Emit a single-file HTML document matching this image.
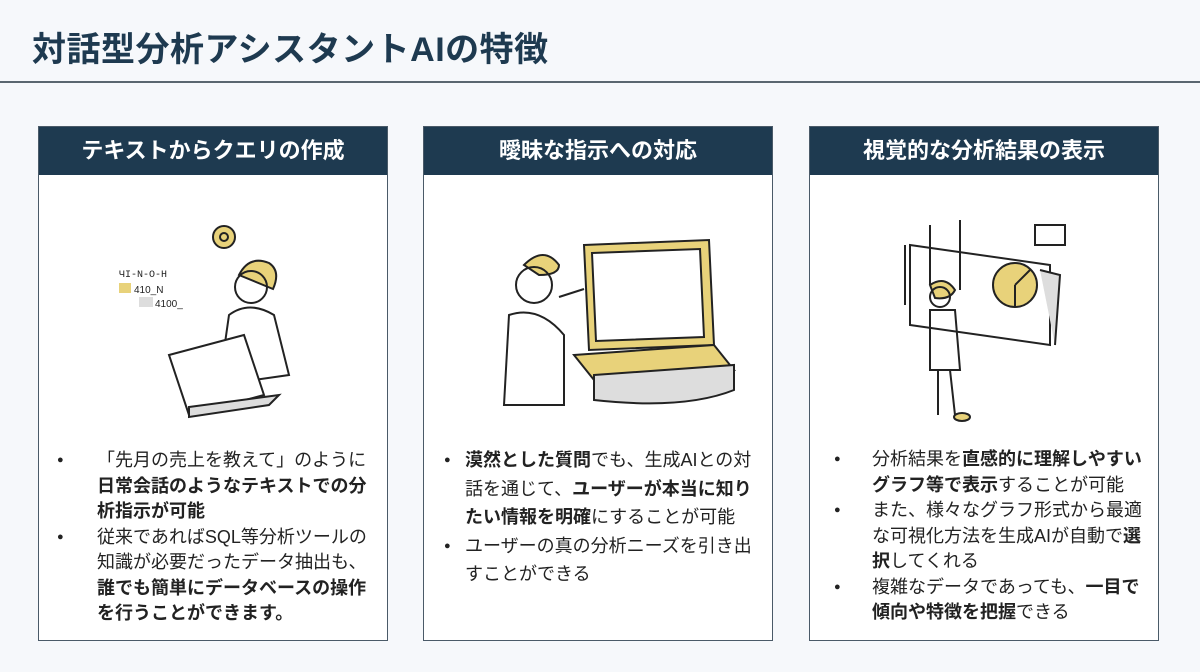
<!DOCTYPE html>
<html><head><meta charset="utf-8"><style>
body{margin:0;width:1200px;height:672px;background:#f6f8fb;font-family:"Liberation Sans","Noto Sans CJK JP",sans-serif;position:relative;overflow:hidden;color:#222}
h1{position:absolute;left:32px;top:22px;margin:0;font-size:34px;font-weight:bold;color:#1e3a50;letter-spacing:0.5px}
.rule{position:absolute;left:0;top:81px;width:1200px;height:2px;background:#5a6670}
.panel{position:absolute;top:126px;width:350px;height:515px;background:#fff;border:1.5px solid #4a5a68;box-sizing:border-box}
.hd{height:48px;background:#1e3a50;color:#fff;font-weight:bold;font-size:22px;text-align:center;line-height:48px}
ul{position:absolute;left:0;margin:0;padding:0;list-style:none;font-size:18px;line-height:25.5px}
li{position:relative;padding-left:58px;width:278px}
li:before{content:"●";position:absolute;left:18px;font-size:11px}
.m ul{line-height:28.5px}
.m li{padding-left:41px;width:294px}
.m li:before{left:20px}
.r li{padding-left:62px;width:278px}
.r li:before{left:24px}
b{font-weight:bold}
svg{position:absolute}
</style></head><body>
<h1>対話型分析アシスタントAIの特徴</h1>
<div class="rule"></div>

<div class="panel" style="left:38px">
<div class="hd">テキストからクエリの作成</div>
<svg width="349" height="260" viewBox="0 0 349 260" style="left:0;top:48px" fill="none" stroke="#222" stroke-width="2">
<circle cx="185" cy="62" r="11" fill="#e8d27a"/><circle cx="185" cy="62" r="4"/>
<text x="80" y="102" font-size="10" fill="#222" stroke="none" font-family="Liberation Mono">ЧI-N-O-H</text>
<rect x="80" y="108" width="12" height="10" fill="#e8d27a" stroke="none"/><text x="95" y="118" font-size="10" fill="#222" stroke="none">410_N</text>
<rect x="100" y="122" width="14" height="10" fill="#ddd" stroke="none"/><text x="116" y="132" font-size="10" fill="#222" stroke="none">4100_</text>
<path d="M200 100 q10-20 30-12 q12 8 4 26 z" fill="#e8d27a"/>
<circle cx="212" cy="112" r="16"/>
<path d="M190 140 q20-15 45 0 l15 60 -70 10 z"/>
<path d="M130 180 l75-20 20 60 -75 20 z" fill="#fff"/>
<path d="M150 232 l90-12 -10 10 -80 12z" fill="#ddd"/>
</svg>
<ul style="top:321px">
<li>「先月の売上を教えて」のように<b>日常会話のようなテキストでの分析指示が可能</b></li>
<li>従来であればSQL等分析ツールの知識が必要だったデータ抽出も、<b>誰でも簡単にデータベースの操作を行うことができます。</b></li>
</ul>
</div>

<div class="panel m" style="left:423px">
<div class="hd">曖昧な指示への対応</div>
<svg width="349" height="260" viewBox="0 0 349 260" style="left:0;top:48px" fill="none" stroke="#222" stroke-width="2">
<path d="M160 70 l125-5 5 105 -125 5z" fill="#e8d27a"/>
<path d="M168 78 l108-4 4 88 -108 4z" fill="#fff"/>
<path d="M150 180 l140-10 20 25 -140 10z" fill="#e8d27a"/>
<path d="M170 200 l140-10 0 25 q-50 20-140 10z" fill="#ddd"/>
<path d="M100 90 q20-20 35 0 q0 10-20 10z" fill="#e8d27a"/>
<circle cx="110" cy="110" r="18"/>
<path d="M85 140 q30-10 55 20 l0 70 -60 0z"/>
<path d="M135 122 l25-8" />
</svg>
<ul style="top:319px">
<li><b>漠然とした質問</b>でも、生成AIとの対話を通じて、<b>ユーザーが本当に知りたい情報を明確</b>にすることが可能</li>
<li>ユーザーの真の分析ニーズを引き出すことができる</li>
</ul>
</div>

<div class="panel r" style="left:809px">
<div class="hd">視覚的な分析結果の表示</div>
<svg width="349" height="260" viewBox="0 0 349 260" style="left:0;top:48px" fill="none" stroke="#222" stroke-width="2">
<path d="M100 70 l140 20 0 80 -140-20z"/>
<rect x="225" y="50" width="30" height="20" fill="#fff"/>
<circle cx="205" cy="110" r="22" fill="#e8d27a"/>
<path d="M205 110 l15-15 M205 110 l0 22"/>
<path d="M120 50 v60 M150 45 v70 M95 70 v60" />
<path d="M230 95 l20 5 -5 70" fill="#ddd"/>
<path d="M120 110 q15-10 25 5 q-5 10-20 8z" fill="#e8d27a"/>
<circle cx="130" cy="122" r="10"/>
<path d="M120 135 l25 0 5 60 -30 0z"/>
<path d="M128 195 l0 45 M140 195 l5 45 M145 240 l12 2" />
<ellipse cx="152" cy="242" rx="8" ry="4" fill="#e8d27a"/>
</svg>
<ul style="top:320px">
<li>分析結果を<b>直感的に理解しやすいグラフ等で表示</b>することが可能</li>
<li>また、様々なグラフ形式から最適な可視化方法を生成AIが自動で<b>選択</b>してくれる</li>
<li>複雑なデータであっても、<b>一目で傾向や特徴を把握</b>できる</li>
</ul>
</div>
</body></html>
